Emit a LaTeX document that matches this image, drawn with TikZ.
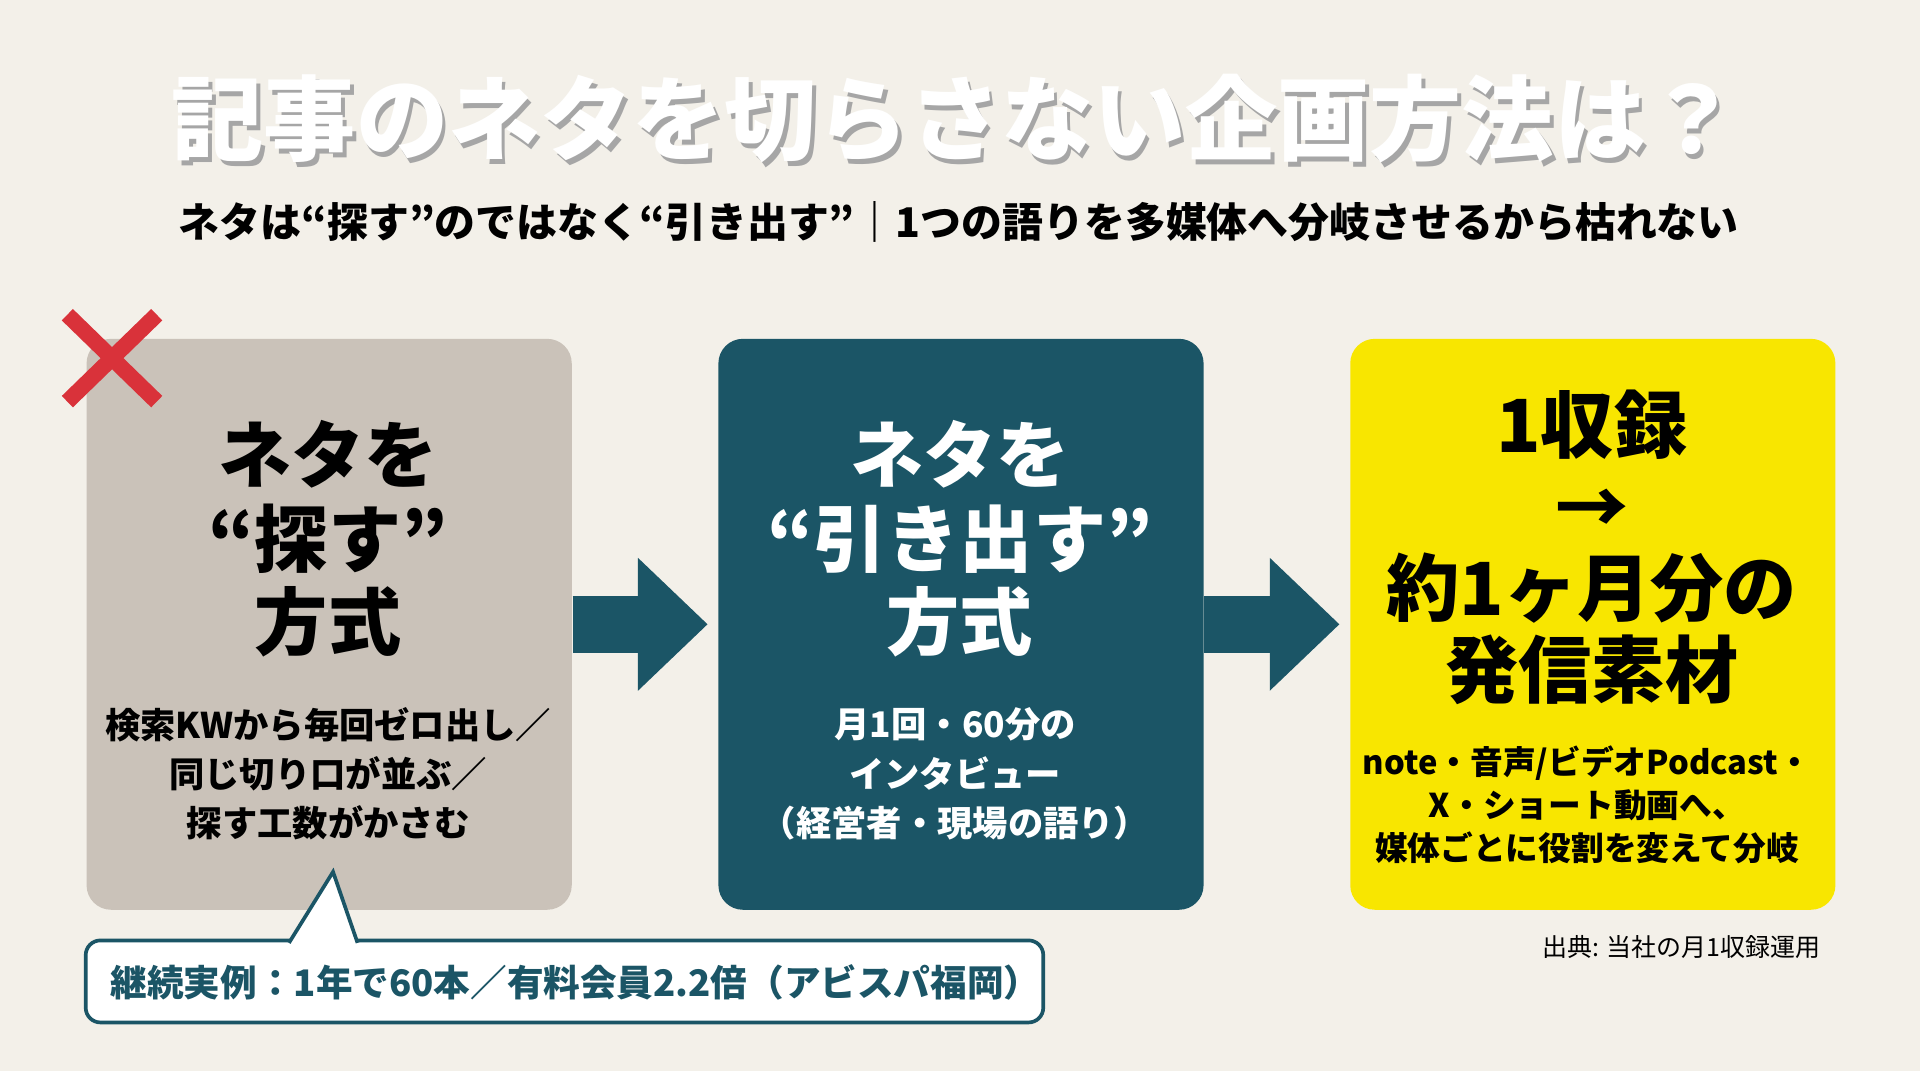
\documentclass[tikz,border=0pt]{standalone}
\usepackage{fontspec}
\setmainfont{Noto Sans CJK JP}
\usepackage{tikz}
\usetikzlibrary{ % tikz packages
    positioning,arrows.meta
}
\definecolor{paper}{HTML}{F3F0E9}
\definecolor{stone}{HTML}{CAC2B9}
\definecolor{teal}{HTML}{1B5566}
\definecolor{lemon}{HTML}{F8E600}
\definecolor{cross}{HTML}{D9323A}
\tikzset{
    panel/.style={rounded corners=0.2cm, minimum width=3.96cm,
        minimum height=4.66cm, anchor=north west, inner sep=0pt},
    head/.style={align=center, font=\bfseries\fontsize{17}{19.4}\selectfont},
    body/.style={align=center, font=\bfseries\fontsize{8.2}{11.4}\selectfont},
    flow/.style={teal, line width=0.47cm,
        -{Triangle[width=1.05cm,length=0.57cm]}, shorten >=0.08cm}
}
\begin{document}
\begin{tikzpicture}[x=0.01cm,y=-0.01cm]
        \fill[paper] (0,0) rectangle (1568,875);
        \useasboundingbox (0,0) rectangle (1568,875);

        % title
        \node[gray!70, font=\bfseries\fontsize{21.4}{24}\selectfont] at (783,101)
            {記事のネタを切らさない企画方法は？};
        \node (title) [white, font=\bfseries\fontsize{21.4}{24}\selectfont] at (780,97)
            {記事のネタを切らさない企画方法は？};
        \node (sub) [font=\bfseries\fontsize{9.5}{11}\selectfont] at (783,181)
            {ネタは“探す”のではなく“引き出す”｜1つの語りを多媒体へ分岐させるから枯れない};

        % panels
        \node[panel, fill=stone] (search) at (70,276) {};
        \node[panel, fill=teal] (draw) at (586,276) {};
        \node[panel, fill=lemon] (output) at (1102,276) {};

        \draw[flow] (search.east) -- (draw.west);
        \draw[flow] (draw.east) -- (output.west);

        % red cross
        \draw[cross, line width=0.13cm] (55,257) -- (128,328) (128,257) -- (55,328);

        \node[head] at (268,440) {ネタを\\“探す”\\方式};
        \node[body] at (268,632) {検索KWから毎回ゼロ出し／\\同じ切り口が並ぶ／\\探す工数がかさむ};

        \node[head, white] at (784,440) {ネタを\\“引き出す”\\方式};
        \node[body, white] at (780,632) {月1回・60分の\\インタビュー\\（経営者・現場の語り）};

        \node[head, font=\bfseries\fontsize{17}{19}\selectfont] at (1300,447)
            {1収録\\→\\約1ヶ月分の\\発信素材};
        \node[body, font=\bfseries\fontsize{7.6}{10}\selectfont] at (1296,657)
            {note・音声/ビデオPodcast・\\X・ショート動画へ、\\媒体ごとに役割を変えて分岐};

        % callout
        \draw[teal, line width=0.03cm, fill=white, rounded corners=0.12cm]
            (70,768) rectangle (852,835);
        \draw[teal, line width=0.03cm, fill=white]
            (236,770) -- (272,712) -- (292,770);
        \fill[white] (238,771) rectangle (290,774);
        \node (case) [teal, anchor=west, font=\bfseries\fontsize{8.5}{10}\selectfont] at (78,802)
            {継続実例：1年で60本／有料会員2.2倍（アビスパ福岡）};

        \node (src) [anchor=east, font=\fontsize{5.8}{7}\selectfont] at (1499,773)
            {出典: 当社の月1収録運用};
    \end{tikzpicture}
\end{document}
